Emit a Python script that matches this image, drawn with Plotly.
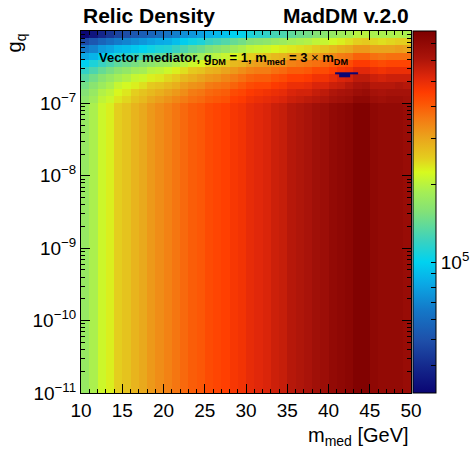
import numpy as np
import plotly.graph_objects as go

# ---------------- data ----------------
# x bins: mediator mass [GeV], 1 GeV wide
m_med_edges = list(range(10, 51))
# y bins: g_q (log), bottom block is vertically uniform
g_q_edges = [1e-11, 1.0e-7, 1.259e-7, 1.585e-7, 1.995e-7, 2.512e-7,
             3.162e-7, 3.981e-7, 5.012e-7, 6.310e-7, 7.943e-7, 1.0e-6]

# log10(relic density value) per cell, rows listed from top (g_q ~ 1e-6) to bottom
log_relic_rows = [
    [4.50, 4.54, 4.59, 4.63, 4.67, 4.69, 4.72, 4.74, 4.76, 4.78,
     4.80, 4.83, 4.86, 4.88, 4.90, 4.93, 4.95, 4.97, 5.00, 5.01,
     5.04, 5.06, 5.07, 5.10, 5.11, 5.14, 5.16, 5.17, 5.20, 5.21,
     5.24, 5.26, 5.27, 5.30, 5.30, 5.28, 5.28, 5.28, 5.29, 5.28],
    [4.68, 4.72, 4.76, 4.79, 4.82, 4.84, 4.86, 4.88, 4.90, 4.92,
     4.93, 4.96, 4.99, 5.02, 5.04, 5.08, 5.10, 5.12, 5.15, 5.17,
     5.20, 5.21, 5.22, 5.24, 5.25, 5.27, 5.28, 5.29, 5.31, 5.32,
     5.34, 5.36, 5.38, 5.40, 5.41, 5.39, 5.38, 5.39, 5.40, 5.40],
    [4.81, 4.84, 4.89, 4.91, 4.95, 4.96, 4.98, 5.00, 5.02, 5.04,
     5.05, 5.08, 5.11, 5.14, 5.16, 5.19, 5.21, 5.23, 5.26, 5.28,
     5.31, 5.32, 5.33, 5.35, 5.36, 5.37, 5.38, 5.39, 5.41, 5.42,
     5.44, 5.46, 5.47, 5.50, 5.50, 5.48, 5.48, 5.48, 5.49, 5.48],
    [4.91, 4.94, 4.99, 5.01, 5.05, 5.06, 5.08, 5.10, 5.12, 5.14,
     5.15, 5.18, 5.21, 5.24, 5.26, 5.29, 5.30, 5.32, 5.35, 5.37,
     5.40, 5.41, 5.42, 5.44, 5.45, 5.47, 5.47, 5.48, 5.50, 5.51,
     5.53, 5.55, 5.56, 5.59, 5.59, 5.57, 5.56, 5.57, 5.57, 5.57],
    [5.00, 5.04, 5.08, 5.11, 5.14, 5.16, 5.18, 5.20, 5.22, 5.24,
     5.25, 5.28, 5.30, 5.33, 5.35, 5.38, 5.39, 5.41, 5.44, 5.45,
     5.48, 5.49, 5.50, 5.51, 5.52, 5.54, 5.55, 5.56, 5.57, 5.58,
     5.60, 5.62, 5.63, 5.66, 5.66, 5.64, 5.63, 5.64, 5.64, 5.64],
    [5.07, 5.11, 5.15, 5.18, 5.21, 5.23, 5.26, 5.27, 5.30, 5.31,
     5.33, 5.36, 5.38, 5.41, 5.42, 5.45, 5.46, 5.48, 5.50, 5.52,
     5.54, 5.55, 5.55, 5.57, 5.58, 5.60, 5.60, 5.61, 5.63, 5.63,
     5.65, 5.67, 5.68, 5.71, 5.71, 5.69, 5.68, 5.69, 5.69, 5.69],
    [5.13, 5.17, 5.21, 5.24, 5.27, 5.29, 5.32, 5.33, 5.36, 5.37,
     5.39, 5.41, 5.44, 5.46, 5.48, 5.50, 5.51, 5.53, 5.55, 5.57,
     5.59, 5.60, 5.60, 5.62, 5.63, 5.65, 5.65, 5.66, 5.68, 5.68,
     5.70, 5.72, 5.73, 5.76, 5.76, 5.74, 5.73, 5.74, 5.74, 5.74],
    [5.17, 5.21, 5.25, 5.28, 5.32, 5.34, 5.36, 5.38, 5.41, 5.42,
     5.44, 5.46, 5.49, 5.51, 5.52, 5.55, 5.56, 5.57, 5.59, 5.61,
     5.63, 5.64, 5.64, 5.66, 5.67, 5.69, 5.69, 5.70, 5.72, 5.72,
     5.74, 5.75, 5.77, 5.79, 5.80, 5.77, 5.77, 5.77, 5.78, 5.77],
    [5.20, 5.24, 5.29, 5.31, 5.35, 5.37, 5.40, 5.42, 5.44, 5.46,
     5.48, 5.50, 5.52, 5.55, 5.56, 5.58, 5.59, 5.60, 5.63, 5.64,
     5.66, 5.67, 5.68, 5.69, 5.70, 5.72, 5.73, 5.73, 5.75, 5.76,
     5.78, 5.79, 5.80, 5.82, 5.83, 5.80, 5.79, 5.80, 5.80, 5.80],
    [5.22, 5.26, 5.31, 5.33, 5.37, 5.39, 5.42, 5.44, 5.47, 5.49,
     5.51, 5.53, 5.55, 5.57, 5.58, 5.60, 5.61, 5.62, 5.65, 5.66,
     5.68, 5.69, 5.70, 5.71, 5.72, 5.74, 5.75, 5.76, 5.77, 5.78,
     5.80, 5.81, 5.82, 5.85, 5.85, 5.82, 5.81, 5.82, 5.82, 5.81],
    [5.24, 5.28, 5.33, 5.36, 5.40, 5.42, 5.45, 5.47, 5.50, 5.52,
     5.54, 5.56, 5.58, 5.60, 5.61, 5.63, 5.64, 5.65, 5.67, 5.68,
     5.70, 5.71, 5.72, 5.74, 5.75, 5.77, 5.78, 5.79, 5.81, 5.82,
     5.84, 5.85, 5.86, 5.88, 5.88, 5.85, 5.84, 5.84, 5.84, 5.83],
]

# small low-value feature near m_med ~ 42 GeV
blip_x_edges = [40.8, 41.3, 42.6, 43.6]
blip_y_edges = [2.27e-7, 2.53e-7, 2.69e-7]
blip_log_relic = [[None, 4.30, None],
                  [4.30, 4.30, 4.30]]

# colour axis range (relic density values)
z_min_value = 3.12e4
z_max_value = 7.8e5
cbar_tick_values = [4e4, 5e4, 6e4, 7e4, 8e4, 9e4, 1e5, 2e5, 3e5, 4e5, 5e5, 6e5, 7e5]
cbar_tick_labels = ["", "", "", "", "", "", "10<sup>5</sup>", "", "", "", "", "", ""]

y_major = [1e-11, 1e-10, 1e-9, 1e-8, 1e-7]
y_major_labels = ["10<sup>\u221211</sup>", "10<sup>\u221210</sup>", "10<sup>\u22129</sup>",
                  "10<sup>\u22128</sup>", "10<sup>\u22127</sup>"]
x_ticks = [10, 15, 20, 25, 30, 35, 40, 45, 50]

palette = [
    [0.000, "rgb(10,5,115)"],
    [0.072, "rgb(20,40,140)"],
    [0.146, "rgb(30,80,170)"],
    [0.229, "rgb(20,120,200)"],
    [0.304, "rgb(10,170,230)"],
    [0.362, "rgb(0,210,240)"],
    [0.423, "rgb(60,210,190)"],
    [0.500, "rgb(130,225,120)"],
    [0.555, "rgb(165,238,85)"],
    [0.610, "rgb(215,250,30)"],
    [0.649, "rgb(228,205,30)"],
    [0.704, "rgb(234,165,28)"],
    [0.760, "rgb(245,120,18)"],
    [0.800, "rgb(252,85,5)"],
    [0.831, "rgb(255,60,0)"],
    [0.870, "rgb(225,40,10)"],
    [0.925, "rgb(170,20,10)"],
    [1.000, "rgb(125,0,0)"],
]

# ---------------- figure ----------------
FONT = "Liberation Sans, Arial, Helvetica, sans-serif"
zmin = np.log10(z_min_value)
zmax = np.log10(z_max_value)
z = log_relic_rows[::-1]

fig = go.Figure()
fig.add_trace(go.Heatmap(
    x=m_med_edges, y=g_q_edges, z=z,
    zmin=zmin, zmax=zmax, colorscale=palette, zsmooth=False,
    colorbar=dict(
        x=1.006, xanchor="left", xpad=0, ypad=0,
        y=0.5, yanchor="middle", len=1, lenmode="fraction",
        thickness=23, thicknessmode="pixels",
        outlinewidth=1, outlinecolor="black",
        tickmode="array", tickvals=list(np.log10(cbar_tick_values)),
        ticktext=cbar_tick_labels, ticks="inside", ticklen=5,
        tickcolor="black", tickwidth=1,
        tickfont=dict(family=FONT, size=19, color="black"),
    ),
    hoverinfo="skip",
))
fig.add_trace(go.Heatmap(
    x=blip_x_edges, y=blip_y_edges, z=blip_log_relic,
    zmin=zmin, zmax=zmax, colorscale=palette, zsmooth=False,
    showscale=False, hoverinfo="skip",
))

fig.update_layout(
    width=475, height=451,
    margin=dict(l=81, r=64, t=31, b=58, autoexpand=False),
    paper_bgcolor="white", plot_bgcolor="white",
    font=dict(family=FONT, size=19, color="black"),
    showlegend=False,
    xaxis=dict(
        range=[10, 50], showline=True, linecolor="black", linewidth=1,
        mirror="allticks", ticks="inside", ticklen=9, tickcolor="black",
        tickvals=x_ticks, showgrid=False, zeroline=False,
        tickfont=dict(family=FONT, size=19),
        minor=dict(ticks="inside", ticklen=4, tickcolor="black", dtick=1, showgrid=False),
    ),
    yaxis=dict(
        type="log", range=[-11, -6], showline=True, linecolor="black", linewidth=1,
        mirror="allticks", ticks="inside", ticklen=9, tickcolor="black",
        tickmode="array", tickvals=y_major, ticktext=y_major_labels,
        showgrid=False, zeroline=False,
        tickfont=dict(family=FONT, size=19),
        minor=dict(ticks="inside", ticklen=4, tickcolor="black", showgrid=False,
                   tickmode="array",
                   tickvals=[k * 10.0 ** e for e in range(-11, -6) for k in range(2, 10)]),
    ),
    annotations=[
        dict(text="<b>Relic Density</b>", xref="paper", yref="paper", x=0, y=1.044,
             xanchor="left", yanchor="middle", showarrow=False,
             font=dict(family=FONT, size=21, color="black")),
        dict(text="<b>MadDM v.2.0</b>", xref="paper", yref="paper", x=1, y=1.044,
             xanchor="right", yanchor="middle", showarrow=False,
             font=dict(family=FONT, size=21, color="black")),
        dict(text="<b>Vector mediator, g<sub>DM</sub> = 1, m<sub>med</sub> = 3 </b>\u00d7<b> m<sub>DM</sub></b>",
             xref="paper", yref="paper", x=0.048, y=0.925,
             xanchor="left", yanchor="middle", showarrow=False,
             font=dict(family=FONT, size=13, color="black")),
        dict(text="m<sub>med</sub> [GeV]", xref="paper", yref="paper", x=1.0, y=-0.119,
             xanchor="right", yanchor="middle", showarrow=False,
             font=dict(family=FONT, size=20, color="black")),
        dict(text="g<sub>q</sub>", xref="paper", yref="paper", x=-0.197, y=1.0,
             xanchor="center", yanchor="top", textangle=-90, showarrow=False,
             font=dict(family=FONT, size=20, color="black")),
    ],
)

fig.write_html("out.html")
